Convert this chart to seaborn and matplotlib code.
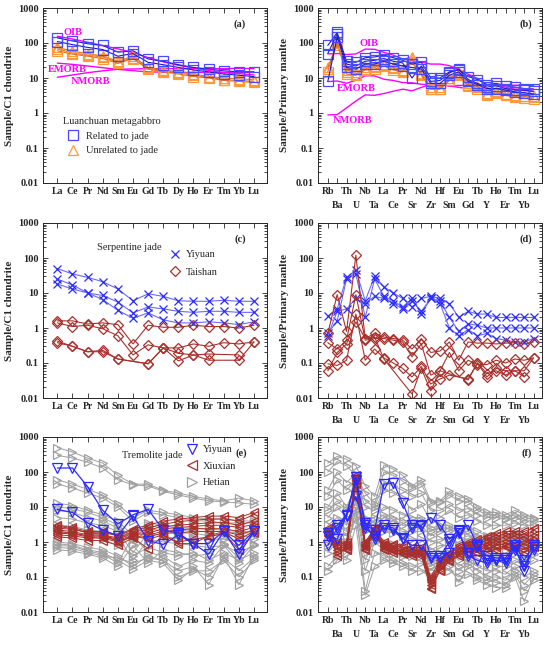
import numpy as np
import pandas as pd
import matplotlib
matplotlib.use("Agg")
import matplotlib.pyplot as plt
from matplotlib.lines import Line2D
from matplotlib.ticker import LogLocator, NullLocator, NullFormatter
import seaborn as sns

nan = np.nan

ree = ["La", "Ce", "Pr", "Nd", "Sm", "Eu", "Gd", "Tb", "Dy", "Ho", "Er", "Tm", "Yb", "Lu"]
spider = ["Rb", "Ba", "Th", "U", "Nb", "Ta", "La", "Ce", "Pr", "Sr", "Nd", "Zr",
          "Hf", "Sm", "Eu", "Gd", "Tb", "Y", "Ho", "Er", "Tm", "Yb", "Lu"]

# reference curves (chondrite / primitive mantle normalised)
oib_ree = [156, 130, 105, 84, 68, 53, 38, 29, 23, 19.4, 16.4, 14.2, 13.4, 12.2]
emorb_ree = [26.6, 24.5, 22, 19.7, 17.6, 16.2, 14.9, 14.7, 14.4, 14.5, 14.4, 14.4, 14.7, 14.4]
nmorb_ree = [10.5, 12.2, 14.2, 16, 17.8, 18.1, 18.5, 18.6, 18.5, 18.5, 18.6, 18.5, 18.9, 18.5]
oib_pm = [48.8, 50, 47, 48.6, 67, 66, 54, 45, 35, 31, 28.4, 25, 25, 22.5, 17.9, 12.8,
          9.7, 6.4, 6.5, 5.5, 4.7, 4.4, 4.1]
emorb_pm = [7.9, 8.2, 7.1, 8.6, 11.6, 11.5, 9.2, 8.5, 7.4, 7.3, 6.6, 6.5, 6.6, 5.9, 5.4,
            5.0, 4.9, 4.8, 4.8, 4.8, 4.8, 4.8, 4.8]
nmorb_pm = [0.88, 0.9, 1.4, 2.2, 3.3, 3.2, 3.6, 4.2, 4.8, 4.3, 5.4, 6.6, 6.6, 5.9, 6.1,
            6.2, 6.2, 6.2, 6.2, 6.2, 6.2, 6.2, 6.1]

# (a) Luanchuan metagabbro, REE
a_related = [
    [140, 115, 95, 85, 55, 60, 35, 30, 24, 20, 18, 16, 15, 15],
    [110, 90, 75, 65, 42, 50, 28, 24, 20, 17, 15, 13, 12, 11],
]
a_unrelated_tri = [
    [75, 58, 50, 42, 30, 42, 20, 17, 15, 13, 11, 10, 9.5, 9],
    [68, 52, 45, 40, 28, 38, 19, 16, 14, 12, 10.5, 9, 8.5, 8],
]
a_unrelated_sq = [
    [60, 48, 42, 36, 26, 36, 18, 15, 13, 11, 10, 8.5, 8, 7.5],
]

# (b) Luanchuan metagabbro, spider
b_related = [
    [85, 200, 30, 28, 38, 40, 45, 38, 32, 25, 28, 10, 10, 15, 17, 11, 9, 6.5, 7, 6, 5.5, 5, 4.8],
    [50, 180, 25, 22, 30, 32, 36, 30, 27, 10, 22, 8, 8.5, 14, 18, 9, 7, 5.5, 6, 5, 4.5, 4.5, 4.2],
    [8, 150, 20, 18, 25, 25, 30, 25, 22, 20, 18, 7, 7, 12, 15, 8, 6.5, 5, 5, 4.5, 4, 3.8, 3.5],
]
b_unrelated_tri = [
    [18, 110, 15, 13, 20, 20, 25, 20, 17, 40, 13, 5, 5, 9, 13, 6.5, 5.5, 3.5, 4, 3.5, 3, 3, 2.8],
    [20, 90, 17, 15, 18, 22, 24, 19, 16, 35, 14, 5.5, 5.5, 10, 14, 7, 5.8, 3.8, 4.2, 3.6, 3.2, 3.1, 3],
]
b_unrelated_sq = [
    [15, 100, 13, 12, 17, 18, 22, 17, 15, 28, 12, 4.8, 4.8, 8.5, 12, 6, 5, 3.3, 3.7, 3.2, 2.8, 2.7, 2.5],
]

# (c) Serpentine jade, REE
c_yiyuan = [
    [50, 35, 28, 21, 13, 6, 9.5, 8, 6, 5.8, 5.8, 6.2, 5.8, 5.8],
    [25, 17, 10, 8.5, 5.5, 2.7, 4, 3.5, 3, 2.8, 3, 3, 2.8, 2.8],
    [18, 13, 10, 6.5, 3.2, 1.9, 2.7, 1.7, 1.4, 1.4, 1.5, 1.4, 1.25, 1.5],
]
c_taishan = [
    [1.6, 1.6, 1.3, 1.4, 1.25, 0.35, 1.2, 1.05, 1.05, 1.2, 1.1, 1.1, 1.0, 1.2],
    [1.4, 1.1, 1.2, 0.95, 0.6, 0.17, 0.33, 0.27, 0.27, 0.35, 0.3, 0.38, 0.35, 0.4],
    [0.38, 0.3, 0.21, 0.21, 0.13, nan, 0.095, 0.27, 0.19, 0.17, 0.18, nan, 0.17, nan],
    [0.42, 0.3, 0.21, 0.23, 0.13, nan, 0.095, 0.27, 0.115, 0.17, 0.12, nan, 0.12, 0.4],
]

# (d) Serpentine jade, spider
d_yiyuan = [
    [2.2, 3.5, 28, 45, 6, 30, 15, 10, 7, 4, 7, 8, 7, 5, 2, 3, 2.5, 2.5, 2, 2, 2, 2, 2],
    [0.7, 1.6, 25, 35, 2, 25, 8, 6, 4, 7, 2.5, 7, 6, 2, 0.8, 1.3, 1.2, 1, 1, 1, 1, 1, 1],
    [0.6, 3, 3.5, 7, 5, 8, 7, 5, 3.5, 6, 3, 7, 5, 1, 0.6, 0.9, 0.6, 0.7, 0.5, 0.45, 0.4, 0.4, 0.5],
]
d_taishan = [
    [0.7, 9, 0.8, 120, 0.5, 0.7, 0.55, 0.5, 0.45, 0.25, 0.5, 0.2, 0.22, 0.4, 0.12, 0.4,
     0.37, 0.37, 0.35, 0.37, 0.38, 0.35, 0.4],
    [0.38, 0.25, 0.45, 9, 0.45, 0.5, 0.5, 0.45, 0.4, 0.15, 0.35, 0.045, 0.06, 0.2, 0.06,
     0.12, 0.09, 0.09, 0.12, 0.1, 0.13, 0.12, 0.14],
    [0.095, 0.085, 0.12, 2.5, 0.12, 0.25, 0.14, 0.1, 0.07, 0.04, 0.08, 0.025, 0.035, 0.045,
     nan, 0.035, 0.1, 0.05, 0.06, 0.045, 0.06, 0.04, nan],
    [0.06, 0.2, 0.35, 1.5, 0.5, 0.55, 0.13, nan, nan, 0.013, 0.07, 0.016, 0.06, nan, nan,
     0.033, 0.1, 0.04, 0.07, 0.06, 0.06, 0.06, 0.14],
]

# (e) Tremolite jade, REE
e_yiyuan = [
    [130, 130, 38, 8, 3.3, 6, 8.5, 2.2, 1.8, 0.9, 0.45, 2, 0.45, 2],
    [8.5, 7, 3.5, 2.2, 1.5, 5.5, 1.1, 0.85, 1.6, 0.9, 0.9, 2, 0.8, 2],
]
e_xiuxian = [
    [3.0, 2.6, 2.0, 2.0, 1.6, 2.4, 3.0, 4.0, 4.5, 5.0, 5.5, 5.5, 5.0, 7.0],
    [2.5, 2.3, 1.9, 1.9, 1.5, 2.2, 2.6, 3.2, 3.8, 4.2, 4.5, 4.6, 4.0, 6.0],
    [2.2, 2.0, 1.6, 1.6, 1.3, 2.0, 2.2, 2.8, 3.0, 3.3, 3.5, 3.6, 3.0, 4.0],
    [2.0, 1.8, 1.5, 1.5, 1.2, 1.8, 1.8, 2.4, 2.6, 2.8, 3.0, 3.0, 2.6, 3.2],
    [1.8, 1.7, 1.4, 1.4, 1.1, 1.6, 1.6, 2.0, 2.2, 2.4, 2.4, 2.4, 2.0, 2.6],
    [1.6, 1.5, 1.3, 1.3, 1.0, 1.4, 1.4, 1.8, 1.8, 2.0, 2.0, 2.0, 1.6, 2.2],
    [1.4, 1.3, 1.1, 1.1, 0.8, 1.3, 0.65, 1.5, 1.0, 1.2, 1.4, 1.8, 0.6, 1.8],
    [2.8, 2.4, 1.8, 1.7, 1.0, 1.5, 1.2, 1.6, 0.9, 0.9, 1.5, 2.0, 1.2, 2.0],
]
e_hetian = [
    [500, 370, 250, 180, 80, 45, 45, 30, 25, 20, 17, 15, 18, 15],
    [300, 250, 190, 130, 60, 43, 40, 28, 22, 18, 15, 14, 13, 12],
    [60, 45, 32, 22, 12, 5, 8, 7, 6, 5, 4.5, 4.5, 4, 4],
    [45, 35, 25, 18, 10, 4, 7, 6, 5, 4, 4, 3.5, 3.5, 3.5],
    [13, 11, 8, 6, 4, 1.5, 3.5, 3, 2.5, 2.5, 2.3, 2.2, 2, 2],
    [10, 9, 7, 5, 3, 1.2, 3, 2.5, 2.2, 2, 2, 2, 1.8, 1.8],
    [8, 7, 5, 4, 2.5, 0.9, 2.5, 2, 1.8, 1.8, 1.5, 1.6, 1.4, 1.5],
    [5, 4.5, 3.5, 3, 2, 0.5, 1.8, 1.5, 1.2, 1.3, 1.2, 1.2, 1, 1.2],
    [3, 2.8, 2.2, 2, 1.5, 0.3, 1.2, 1, 0.9, 0.8, 0.7, 0.8, 0.5, 0.8],
    [2, 1.8, 1.5, 1.2, 0.8, 0.4, 0.7, 0.5, 0.4, 0.5, 0.3, 0.5, 0.3, 0.5],
    [1.0, 0.9, 0.7, 0.6, 0.4, 0.2, 0.4, 0.3, 0.15, 0.2, 0.06, 0.4, 0.06, 0.4],
    [0.9, 0.8, 0.6, 0.5, 0.3, 0.17, 0.3, 0.25, 0.08, 0.17, 0.1, 0.35, 0.15, 0.35],
    [0.8, 0.75, 0.55, 0.45, 0.25, 1.5, 0.5, 0.4, 0.2, 0.3, 0.25, 0.8, 0.25, 0.8],
    [0.7, 0.65, 0.5, 0.4, 0.35, 0.25, 0.35, 0.3, 0.1, 0.15, 0.15, 0.3, 0.1, 0.3],
    [0.6, 0.55, 0.45, 0.35, 0.2, 0.8, 0.25, 0.6, 0.5, 0.4, 0.45, 0.9, 0.35, 0.9],
]

# (f) Tremolite jade, spider
f_yiyuan = [
    [1.8, 3, 6, 70, 3, 2.2, 45, 50, 13, 3, 3, 5, 3, 1.2, 2.2, 3, 0.8, 0.4, 0.35, 0.35, 0.8, 0.3, 0.8],
    [0.8, 2.5, 5.5, 60, 3.5, 1.2, 3, 2.5, 1.3, 0.8, 0.8, 0.35, 0.35, 0.5, 2, 0.4, 0.3, 0.25, 0.3, 0.3, 0.7, 0.15, 0.7],
    [1.5, 1.2, 6, 20, 2.5, 1.5, 2.5, 2.2, 1.2, 2.5, 2.8, 0.4, 0.4, 1, 1.8, 0.5, 0.7, 0.3, 0.3, 0.25, 0.6, 0.2, 0.6],
]
f_xiuxian = [
    [2.5, 1.0, 1.0, 80, 1.0, 2.5, 1.0, 0.9, 0.8, 0.7, 0.7, 0.1, 0.3, 0.5, 0.8, 1.0, 1.2, 1.5, 1.8, 2.0, 2.0, 2.0, 2.5],
    [2.2, 0.9, 0.9, 70, 0.9, 2.4, 0.9, 0.8, 0.7, 0.6, 0.6, 0.08, 0.25, 0.45, 0.7, 0.9, 1.0, 1.3, 1.5, 1.7, 1.7, 1.6, 2.0],
    [2.0, 0.8, 0.8, 60, 0.8, 2.3, 0.8, 0.7, 0.6, 0.55, 0.55, 0.07, 0.2, 0.4, 0.6, 0.8, 0.9, 1.1, 1.2, 1.4, 1.4, 1.3, 1.6],
    [1.8, 0.7, 0.7, 55, 0.7, 2.2, 0.7, 0.6, 0.55, 0.5, 0.5, 0.06, 0.18, 0.35, 0.5, 0.7, 0.8, 0.9, 1.0, 1.1, 1.1, 1.0, 1.3],
    [1.6, 0.6, 0.65, 50, 0.65, 2.1, 0.65, 0.55, 0.5, 0.45, 0.45, 0.05, 0.16, 0.3, 0.45, 0.6, 0.7, 0.8, 0.8, 0.9, 0.9, 0.8, 1.0],
    [1.5, 0.5, 0.6, 45, 0.6, 2.0, 0.6, 0.5, 0.45, 0.4, 0.4, 0.045, 0.15, 0.28, 0.4, 0.5, 0.6, 0.7, 0.7, 0.75, 0.8, 0.6, 0.8],
    [2.0, 0.4, 0.75, 65, 0.75, 1.5, 0.75, 0.65, 0.55, 0.5, 0.5, 0.09, 0.22, 0.4, 0.55, 0.65, 0.5, 0.6, 0.6, 0.7, 0.7, 0.5, 0.7],
]
f_hetian = [
    [180, 280, 230, 150, 40, 20, 160, 120, 80, 40, 60, 15, 15, 28, 20, 17, 10, 7, 7, 6, 8, 6, 5],
    [100, 200, 150, 80, 25, 12, 100, 80, 55, 35, 45, 13, 14, 22, 15, 14, 8, 6, 6, 5, 6, 5, 4.5],
    [30, 100, 50, 90, 15, 10, 50, 40, 30, 20, 25, 8, 8, 12, 8, 9, 6, 5, 5, 4.5, 5, 4, 4],
    [20, 60, 30, 60, 10, 8, 30, 25, 18, 8, 12, 4, 5, 8, 5, 6, 4, 3, 3, 3, 3.5, 3, 3],
    [10, 25, 10, 40, 5, 5, 10, 8, 6, 5, 5, 2.5, 3, 3, 2, 2.5, 2, 1.5, 1.5, 1.5, 2, 1.5, 1.5],
    [8, 15, 8, 50, 4, 4, 6, 5, 4, 4, 4, 2, 2.5, 2.5, 1.8, 2, 1.5, 1.2, 1.2, 1.2, 1.5, 1.2, 1.2],
    [5, 10, 5, 30, 3, 3, 5, 4, 3, 3, 3, 1.5, 2, 2, 1.2, 1.5, 1.2, 1.0, 1.0, 1.0, 1.2, 0.9, 1.0],
    [3, 5, 3, 20, 2, 2.5, 3, 2.5, 2, 2, 2, 1, 1.2, 1.2, 0.8, 1, 0.8, 0.6, 0.6, 0.6, 0.8, 0.6, 0.7],
    [2, 3, 2, 15, 1, 2, 2, 1.8, 1.5, 1.2, 1.2, 0.6, 0.8, 0.8, 0.6, 0.7, 0.5, 0.4, 0.4, 0.4, 0.5, 0.35, 0.45],
    [1, 2, 1.5, 10, 0.5, 1.5, 1, 0.9, 0.7, 0.6, 0.6, 0.3, 0.5, 0.5, 0.3, 0.4, 0.3, 0.25, 0.2, 0.2, 0.3, 0.2, 0.3],
    [0.8, 1.5, 1, 8, 0.3, 1.2, 0.8, 0.7, 0.5, 0.5, 0.5, 0.25, 0.35, 0.4, 0.2, 0.3, 0.2, 0.15, 0.15, 0.12, 0.2, 0.1, 0.15],
    [0.5, 1, 0.8, 5, 0.15, 1, 0.6, 0.5, 0.4, 0.4, 0.4, 0.2, 0.3, 0.3, 0.15, 0.25, 0.15, 0.1, 0.1, 0.08, 0.15, 0.06, 0.12],
    [0.15, 0.3, 0.5, 8, 0.04, 0.5, 0.4, 0.3, 0.25, 0.2, 0.25, 0.15, 0.25, 0.2, 0.07, 0.2, 0.1, 0.08, 0.07, 0.06, 0.12, 0.04, 0.08],
    [0.2, 0.4, 0.3, 3, 0.03, 0.2, 0.3, 0.25, 0.2, 0.15, 0.15, 0.1, 0.2, 0.15, 0.1, 0.12, 0.08, 0.06, 0.05, 0.05, 0.1, 0.02, 0.1],
]

BLUE = "#4a4aff"
DBLUE = "#1a1ad0"
ORANGE = "#ff9a3c"
DORANGE = "#e07020"
MAGENTA = "#ff00ff"
BROWN = "#a8302c"
GRAY = "#a0a0a0"
XBLUE = "#2a2aff"

sns.set_style("ticks")
plt.rcParams["font.family"] = ["Liberation Serif", "DejaVu Serif"]
plt.rcParams["axes.linewidth"] = 0.7


def to_long(series):
    rows = []
    for i, vals in enumerate(series):
        for j, v in enumerate(vals):
            if not np.isnan(v):
                rows.append((i, j, v))
    return pd.DataFrame(rows, columns=["sample", "pos", "value"])


def draw(ax, series, color, marker, ms, edge=None, lw=0.8, mew=0.9):
    df = to_long(series)
    sns.lineplot(data=df, x="pos", y="value", units="sample", estimator=None,
                 color=color, lw=lw, marker=marker, ms=ms, mfc="none",
                 mec=edge or color, mew=mew, ax=ax)


def ref_line(ax, vals):
    sns.lineplot(x=np.arange(len(vals)), y=vals, color=MAGENTA, lw=1.0, ax=ax)


def style(ax, labels, ylabel, tag, tag_x, two_rows=False):
    n = len(labels)
    ax.set_yscale("log")
    ax.set_ylim(0.01, 1000)
    tick_font = dict(fontsize=7, fontweight="bold")
    if two_rows:
        ax.set_xlim(-1.05, n - 1 + 0.9)
        top = list(range(0, n, 2))
        low = list(range(1, n, 2))
        ax.set_xticks(top, [labels[i] for i in top], **tick_font)
        ax.set_xticks(low, [labels[i] for i in low], minor=True, **tick_font)
        ax.tick_params(axis="x", which="minor", length=3.5, pad=13)
    else:
        ax.set_xlim(-0.95, n - 1 + 0.86)
        ax.set_xticks(range(n), labels, **tick_font)
        ax.xaxis.set_minor_locator(NullLocator())
    ax.set_yticks([0.01, 0.1, 1, 10, 100, 1000])
    ax.set_yticklabels(["0.01", "0.1", "1", "10", "100", "1000"],
                       fontsize=7.5, fontweight="bold")
    ax.yaxis.set_minor_locator(LogLocator(base=10, subs=np.arange(2, 10), numticks=30))
    ax.yaxis.set_minor_formatter(NullFormatter())
    ax.tick_params(which="both", direction="in", top=True, right=True, width=0.6)
    ax.tick_params(which="major", length=3.5, pad=3)
    ax.tick_params(axis="y", which="minor", length=2)
    ax.set_xlabel("")
    ax.set_ylabel(ylabel, fontsize=8, fontweight="bold", labelpad=3)
    ax.text(tag_x, 0.905, tag, transform=ax.transAxes, ha="center", va="center",
            fontsize=7.5, fontweight="bold")


def handle(marker, color, ms):
    return Line2D([], [], ls="none", marker=marker, ms=ms, mfc="none", mec=color, mew=0.9)


fig = plt.figure(figsize=(5.5, 6.47), dpi=100)
W, H = 224 / 550, 175 / 647
ax_a = fig.add_axes([43 / 550, 464 / 647, W, H])
ax_b = fig.add_axes([318 / 550, 464 / 647, W, H])
ax_c = fig.add_axes([43 / 550, 249 / 647, W, H])
ax_d = fig.add_axes([318 / 550, 249 / 647, W, H])
ax_e = fig.add_axes([43 / 550, 35 / 647, W, H])
ax_f = fig.add_axes([318 / 550, 35 / 647, W, H])

lab_kw = dict(color=MAGENTA, fontsize=7.5, fontweight="bold", va="center")

# (a)
for ref in (oib_ree, emorb_ree, nmorb_ree):
    ref_line(ax_a, ref)
draw(ax_a, a_unrelated_tri, DORANGE, "^", 6.5, edge=ORANGE)
draw(ax_a, a_unrelated_sq, DORANGE, "s", 6.5, edge=ORANGE)
draw(ax_a, a_related, DBLUE, "s", 7, edge=BLUE)
ax_a.text(0.4, 200, "OIB", **lab_kw)
ax_a.text(-0.6, 17, "EMORB", **lab_kw)
ax_a.text(0.9, 8, "NMORB", **lab_kw)
style(ax_a, ree, "Sample/C1 chondrite", "(a)", 0.88)
ax_a.legend([handle("s", BLUE, 7), handle("^", ORANGE, 7)],
            ["Related to jade", "Unrelated to jade"], title="Luanchuan metagabbro",
            loc="upper left", bbox_to_anchor=(0.089, 0.376), frameon=False,
            fontsize=7.5, title_fontsize=7.5, alignment="left", handlelength=2.0,
            handletextpad=0.2, labelspacing=0.5, borderaxespad=0, borderpad=0)

# (b)
for ref in (oib_pm, emorb_pm, nmorb_pm):
    ref_line(ax_b, ref)
draw(ax_b, b_unrelated_tri, DORANGE, "^", 6.5, edge=ORANGE)
draw(ax_b, b_unrelated_sq, DORANGE, "s", 6.5, edge=ORANGE)
draw(ax_b, b_related, DBLUE, "s", 7, edge=BLUE)
ax_b.text(3.4, 100, "OIB", **lab_kw)
ax_b.text(1.0, 5.1, "EMORB", **lab_kw)
ax_b.text(0.5, 0.6, "NMORB", **lab_kw)
style(ax_b, spider, "Sample/Primary manlte", "(b)", 0.93, two_rows=True)

# (c)
draw(ax_c, c_yiyuan, "#6a6aff", "x", 6, edge=XBLUE, lw=0.8)
draw(ax_c, c_taishan, BROWN, "D", 4.8, lw=0.8)
ax_c.text(2.6, 205, "Serpentine jade", fontsize=7.5, va="center")
style(ax_c, ree, "Sample/C1 chondrite", "(c)", 0.88)
ax_c.legend([handle("x", XBLUE, 6), handle("D", BROWN, 4.8)], ["Yiyuan", "Taishan"],
            loc="upper left", bbox_to_anchor=(0.565, 0.845), frameon=False, fontsize=7.5,
            handlelength=1.0, handletextpad=0.6, labelspacing=0.75,
            borderaxespad=0, borderpad=0)

# (d)
draw(ax_d, d_yiyuan, "#6a6aff", "x", 6, edge=XBLUE, lw=0.8)
draw(ax_d, d_taishan, BROWN, "D", 4.8, lw=0.8)
style(ax_d, spider, "Sample/Primary manlte", "(d)", 0.93, two_rows=True)

# (e)
draw(ax_e, e_hetian, GRAY, ">", 6, lw=0.7)
draw(ax_e, e_xiuxian, BROWN, "<", 6, lw=0.7)
draw(ax_e, e_yiyuan, XBLUE, "v", 6.5, lw=0.9)
ax_e.text(4.3, 300, "Tremolite jade", fontsize=7.5, va="center")
style(ax_e, ree, "Sample/C1 chondrite", "(e)", 0.885)
ax_e.legend([handle("v", XBLUE, 6.5), handle("<", BROWN, 6.5), handle(">", GRAY, 6.5)],
            ["Yiyuan", "Xiuxian", "Hetian"],
            loc="upper left", bbox_to_anchor=(0.643, 0.955), frameon=False, fontsize=7.5,
            handlelength=1.0, handletextpad=0.5, labelspacing=0.7,
            borderaxespad=0, borderpad=0)

# (f)
draw(ax_f, f_hetian, GRAY, ">", 6, lw=0.7)
draw(ax_f, f_xiuxian, BROWN, "<", 6, lw=0.7)
draw(ax_f, f_yiyuan, XBLUE, "v", 6.5, lw=0.9)
style(ax_f, spider, "Sample/Primary manlte", "(f)", 0.93, two_rows=True)

fig.savefig("out.png", dpi=100)
